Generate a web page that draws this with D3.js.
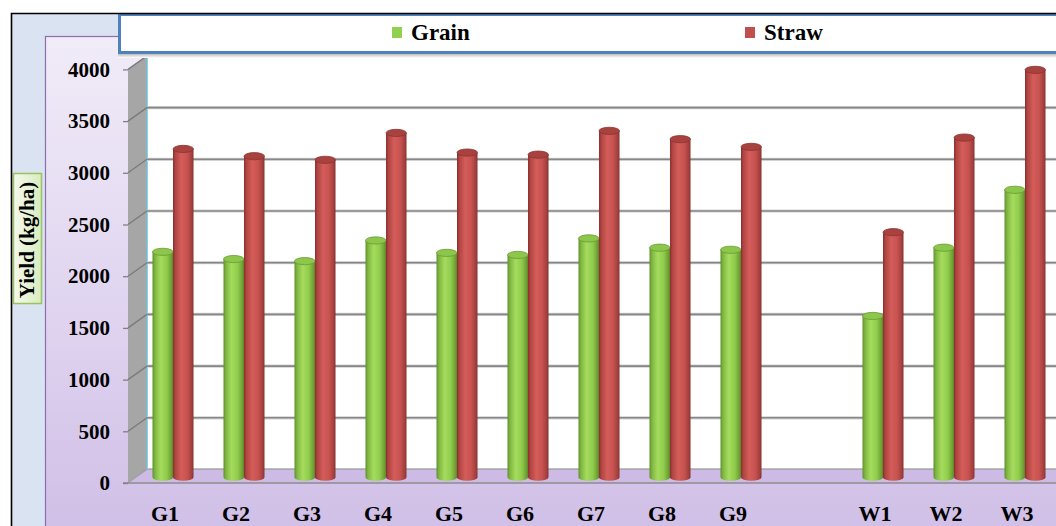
<!DOCTYPE html>
<html>
<head>
<meta charset="utf-8">
<script src="https://cdn.jsdelivr.net/npm/d3@7"></script>
<style>
  html, body { margin: 0; padding: 0; background: #ffffff; }
  svg { display: block; }
  text { font-family: "Liberation Serif", "Times New Roman", Times, "DejaVu Serif", serif; font-weight: bold; fill: #000; }
</style>
</head>
<body>
<svg id="chart" width="1056" height="526"></svg>
<script>
// Yield by treatment (kg/ha)
const categories = ["G1", "G2", "G3", "G4", "G5", "G6", "G7", "G8", "G9", "", "W1", "W2", "W3"];
const grain = [2180, 2110, 2090, 2290, 2170, 2150, 2310, 2220, 2200, null, 1560, 2220, 2780];
const straw = [3175, 3105, 3070, 3330, 3140, 3120, 3350, 3270, 3195, null, 2370, 3285, 3940];
const seriesNames = ["Grain", "Straw"];
const yTicks = [0, 500, 1000, 1500, 2000, 2500, 3000, 3500, 4000];
const yTitle = "Yield (kg/ha)";

const FONT = "'Liberation Serif', 'Times New Roman', Times, 'DejaVu Serif', serif";

const svg = d3.select("#chart");
const defs = svg.append("defs");

// 3-D box geometry
const frontLeft = 128, frontRight = 1051;
const frontBase = 483, frontTop = 69.4;
const depthX = 19, depthY = -13.5;

const x = d3.scaleBand().domain(categories).range([frontLeft, frontRight]).paddingInner(0).paddingOuter(0);
const yFront = d3.scaleLinear().domain([0, 4000]).range([frontBase, frontTop]);
const yBack = v => yFront(v) + depthY;
const yMid = v => yFront(v) + depthY / 2 + 1;

// gradients
function linGrad(id, stops, horizontal) {
  const g = defs.append("linearGradient").attr("id", id)
    .attr("x1", 0).attr("y1", 0)
    .attr("x2", horizontal ? 1 : 0).attr("y2", horizontal ? 0 : 1);
  stops.forEach(([o, c]) => g.append("stop").attr("offset", o).attr("stop-color", c));
}
linGrad("panelGrad", [[0, "#f1ecf8"], [0.5, "#ded2ef"], [1, "#c9b5e2"]], false);
linGrad("titleGrad", [[0, "#f4f9ec"], [1, "#d9ecbf"]], true);
linGrad("greenBody", [[0, "#5f8f2b"], [0.12, "#7fb640"], [0.4, "#a5dc5e"], [0.7, "#90cc4c"], [0.92, "#6f9f35"], [1, "#5a8727"]], true);
linGrad("redBody", [[0, "#8a2f2d"], [0.12, "#b04542"], [0.4, "#d45d5a"], [0.7, "#c7524f"], [0.92, "#a13f3c"], [1, "#84302e"]], true);
linGrad("legendShadow", [[0, "#bdbdbd"], [1, "#ffffff"]], false);

// outer background
svg.append("rect").attr("x", 11).attr("y", 13).attr("width", 1100).attr("height", 600)
  .attr("fill", "#dae3f2");

// inner purple panel
svg.append("rect").attr("x", 45.5).attr("y", 36.5).attr("width", 1100).attr("height", 600)
  .attr("fill", "url(#panelGrad)").attr("stroke", "#8a6fb0").attr("stroke-width", 1.2);

// back wall
svg.append("rect")
  .attr("x", frontLeft + depthX).attr("y", yBack(4000))
  .attr("width", 1000).attr("height", yBack(0) - yBack(4000))
  .attr("fill", "#ffffff");

// side wall
svg.append("path")
  .attr("d", `M${frontLeft},${yFront(0)} L${frontLeft},${yFront(4000)} L${frontLeft + depthX},${yBack(4000)} L${frontLeft + depthX},${yBack(0)} Z`)
  .attr("fill", "#a6a6a6");
svg.append("line")
  .attr("x1", frontLeft + depthX).attr("x2", frontLeft + depthX)
  .attr("y1", yBack(4000)).attr("y2", yBack(0))
  .attr("stroke", "#6cc0d9").attr("stroke-width", 1.5);

// gridlines on back and side walls
const grid = svg.append("g");
yTicks.forEach(t => {
  grid.append("line")
    .attr("x1", frontLeft + depthX).attr("x2", 1100)
    .attr("y1", yBack(t)).attr("y2", yBack(t))
    .attr("stroke", "#d2d2d2").attr("stroke-width", 3.2);
  grid.append("line")
    .attr("x1", frontLeft + depthX).attr("x2", 1100)
    .attr("y1", yBack(t)).attr("y2", yBack(t))
    .attr("stroke", "#878787").attr("stroke-width", 1.6);
  grid.append("line")
    .attr("x1", frontLeft).attr("x2", frontLeft + depthX)
    .attr("y1", yFront(t)).attr("y2", yBack(t))
    .attr("stroke", "#7a7a7a").attr("stroke-width", 1.3);
});

// floor
svg.append("path")
  .attr("d", `M${frontLeft},${yFront(0)} L${frontLeft + depthX},${yBack(0)} L1100,${yBack(0)} L1100,${yFront(0)} Z`)
  .attr("fill", "#cdbbe6");
svg.append("path")
  .attr("d", `M${frontLeft},${yFront(0)} L${frontLeft + depthX},${yBack(0)} L1100,${yBack(0)}`)
  .attr("fill", "none").attr("stroke", "#a9a9b4").attr("stroke-width", 1.2);
svg.append("line")
  .attr("x1", frontLeft - 5).attr("x2", 1100)
  .attr("y1", yFront(0)).attr("y2", yFront(0))
  .attr("stroke", "#8c8c8c").attr("stroke-width", 1.5);

// cylinders
const r = 10.25, ry = 3.6;
const barsG = svg.append("g");
function cylinder(cx, v, bodyFill, topFill, rim) {
  const yt = yMid(v), yb = yMid(0);
  barsG.append("path")
    .attr("d", `M${cx - r},${yt} L${cx - r},${yb} A${r},${ry} 0 0 0 ${cx + r},${yb} L${cx + r},${yt} Z`)
    .attr("fill", bodyFill);
  barsG.append("ellipse")
    .attr("cx", cx).attr("cy", yt).attr("rx", r).attr("ry", ry)
    .attr("fill", topFill).attr("stroke", rim).attr("stroke-width", 0.8);
}
categories.forEach((c, i) => {
  const center = x(c) + x.bandwidth() / 2 + depthX / 2;
  if (grain[i] != null) cylinder(center - r, grain[i], "url(#greenBody)", "#8cc64a", "#6a9a33");
  if (straw[i] != null) cylinder(center + r, straw[i], "url(#redBody)", "#a8423f", "#8c3331");
});

// y axis
const yAxis = svg.append("g")
  .attr("transform", `translate(${frontLeft},0)`)
  .call(d3.axisLeft(yFront).tickValues(yTicks).tickSize(5).tickPadding(13).tickFormat(d3.format("d")));
yAxis.attr("font-family", FONT);
yAxis.select(".domain").remove();
yAxis.selectAll("line").attr("stroke", "#808080").attr("stroke-width", 1.3);
yAxis.selectAll("text")
  .style("font-family", FONT).style("font-weight", "bold")
  .style("font-size", "21px").attr("fill", "#000");

// x axis
const xAxis = svg.append("g")
  .attr("transform", `translate(1.5,${frontBase})`)
  .call(d3.axisBottom(x).tickSize(0).tickPadding(22));
xAxis.attr("font-family", FONT);
xAxis.select(".domain").remove();
xAxis.selectAll("text")
  .style("font-family", FONT).style("font-weight", "bold")
  .style("font-size", "22px").attr("fill", "#000");

// y axis title
svg.append("rect").attr("x", 13.5).attr("y", 173.5).attr("width", 28).attr("height", 130)
  .attr("fill", "url(#titleGrad)").attr("stroke", "#9bc25e").attr("stroke-width", 1.5);
svg.append("text")
  .attr("transform", "translate(34,240) rotate(-90)")
  .attr("text-anchor", "middle")
  .style("font-family", FONT)
  .style("font-size", "21px")
  .text(yTitle);

// legend
svg.append("rect").attr("x", 118).attr("y", 54).attr("width", 1000).attr("height", 4)
  .attr("fill", "url(#legendShadow)");
svg.append("rect").attr("x", 119.5).attr("y", 14.5).attr("width", 1000).attr("height", 38)
  .attr("fill", "#ffffff").attr("stroke", "#4f81bd").attr("stroke-width", 3);
const legendX = [392, 745];
const legendColors = ["#92d050", "#c0504d"];
seriesNames.forEach((name, i) => {
  svg.append("rect").attr("x", legendX[i]).attr("y", 27).attr("width", 10).attr("height", 11)
    .attr("fill", legendColors[i]);
  svg.append("text").attr("x", legendX[i] + 19).attr("y", 40)
    .style("font-family", FONT)
    .style("font-size", "23px").text(name);
});

// outer frame
svg.append("path").attr("d", "M11.5,600 L11.5,13.5 L1100,13.5")
  .attr("fill", "none").attr("stroke", "#000").attr("stroke-width", 1.6);
</script>
</body>
</html>
